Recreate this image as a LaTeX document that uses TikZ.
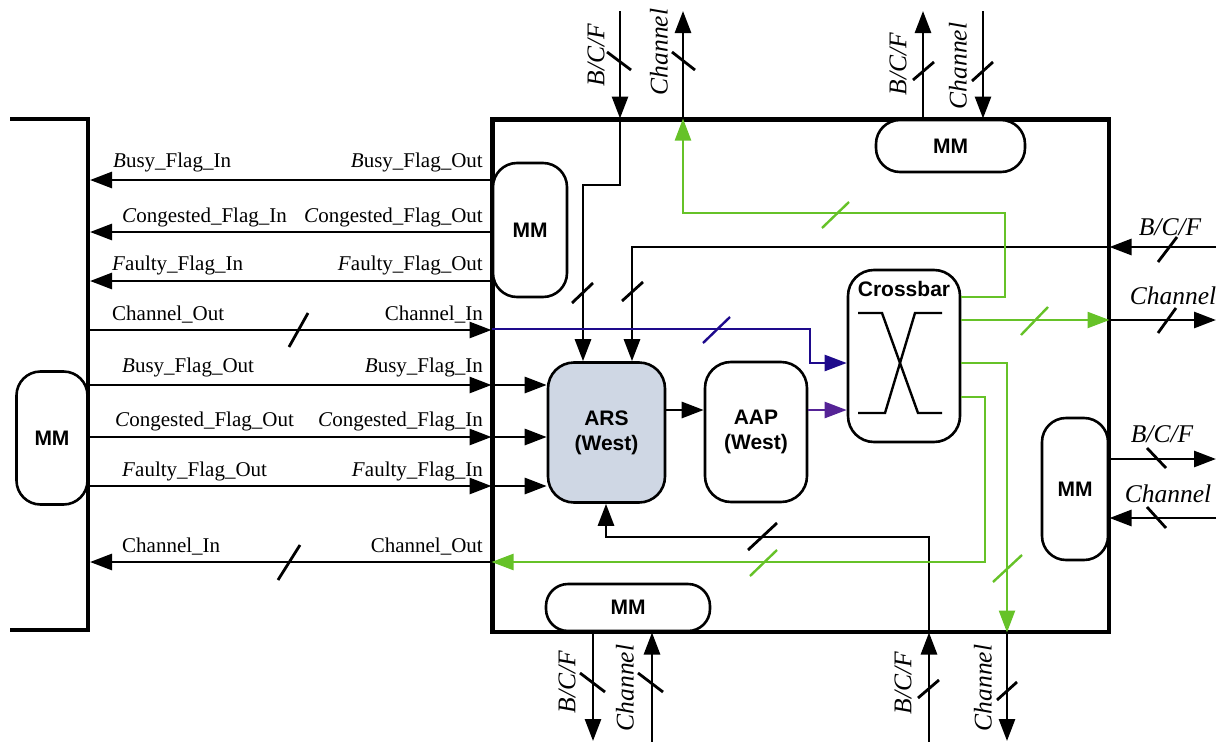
\documentclass[tikz,border=0pt]{standalone}
\usepackage{fontspec}
\setmainfont{Liberation Serif}
\newfontfamily\arialfont{Liberation Sans}
\usetikzlibrary{arrows.meta}
\definecolor{grn}{RGB}{102,194,40}
\definecolor{navyc}{RGB}{30,10,140}
\definecolor{purpc}{RGB}{85,35,150}
\definecolor{arsfill}{RGB}{207,215,228}
\begin{document}
\begin{tikzpicture}[x=1pt,y=-1pt,
  box/.style={draw, line width=2.6pt, rounded corners=24pt, inner sep=0pt, fill=white,
    font=\arialfont\bfseries\fontsize{21}{25}\selectfont, align=center},
  bfont/.style={font=\arialfont\bfseries\fontsize{21}{25}\selectfont, inner sep=0pt},
  arr/.style={line width=2.8pt, -{Triangle[length=22pt,width=16pt]}},
  garr/.style={draw=grn, line width=2.4pt, -{Triangle[length=22pt,width=16pt]}, color=grn},
  narr/.style={draw=navyc, line width=2.4pt, -{Triangle[length=22pt,width=16pt]}, color=navyc},
  parr/.style={draw=purpc, line width=2.4pt, -{Triangle[length=22pt,width=16pt]}, color=purpc},
  slash/.style={line width=2.8pt},
  gslash/.style={line width=2.4pt, draw=grn},
  nslash/.style={line width=2.4pt, draw=navyc},
  lbl/.style={font=\fontsize{21}{24}\selectfont, inner sep=0pt},
  ilbl/.style={font=\itshape\fontsize{25.5}{28}\selectfont, inner sep=0pt},
]
\useasboundingbox (0,0) rectangle (1227,742);

% main frame
\node[draw, line width=3pt, minimum width=615pt, minimum height=511pt, inner sep=0pt] (main) at (800.5,375.5) {};

% left bracket
\draw[line width=4.5pt] (10,119) -- (88,119) -- (88,630) -- (10,630);

% blocks
\node[box, minimum width=71pt, minimum height=133pt] (mmL) at (52,438) {MM};
\node[box, minimum width=74pt, minimum height=134pt] (mmW) at (530,230) {MM};
\node[box, minimum width=149pt, minimum height=52pt] (mmT) at (950.5,146) {MM};
\node[box, minimum width=66pt, minimum height=142pt] (mmR) at (1075,489) {MM};
\node[box, rounded corners=22pt, minimum width=164pt, minimum height=47pt] (mmB) at (628,607.5) {MM};
\node[box, fill=arsfill, rounded corners=26pt, minimum width=117pt, minimum height=140pt] (ars) at (606.5,432.5) {ARS\\(West)};
\node[box, rounded corners=26pt, minimum width=102pt, minimum height=140pt] (aap) at (756,432) {AAP\\(West)};
\node[box, rounded corners=26pt, minimum width=112pt, minimum height=172pt] (xbar) at (904,356) {};
\node[bfont] (xlbl) at (904,289) {Crossbar};
\draw[line width=2.4pt] (858,313) -- (882,313) -- (918,413) -- (942,413);
\draw[line width=2.4pt] (858,413) -- (885,413) -- (915,313) -- (942,313);

% redraw frame on top
\draw[line width=3pt] (main.north west) rectangle (main.south east);

% coordinates
\coordinate (tA) at (620,11);
\coordinate (tB) at (683,11);
\coordinate (tC) at (923,11);
\coordinate (tD) at (983,11);
\coordinate (bA) at (593,741);
\coordinate (bB) at (652,742);
\coordinate (bC) at (929,742);
\coordinate (bD) at (1007,741);
\coordinate (rA) at (1216,247);
\coordinate (rB) at (1216,320);
\coordinate (rC) at (1216,459);
\coordinate (rD) at (1216,518);
\coordinate (L1) at (90,180);
\coordinate (L2) at (90,232);
\coordinate (L3) at (90,281);
\coordinate (L4) at (88,330);
\coordinate (L5) at (88,385);
\coordinate (L6) at (88,437);
\coordinate (L7) at (88,486);
\coordinate (L8) at (90,562);
\coordinate (j1) at (583,185);
\coordinate (j2) at (632,247);
\coordinate (j3) at (606,537);
\coordinate (j4) at (810,329);
\coordinate (j5) at (810,363);
\coordinate (j6) at (807,410);
\coordinate (g1) at (1005,297);
\coordinate (g1b) at (683,213);
\coordinate (g3) at (1007,363);
\coordinate (g4) at (985,397);

% outer arrows: top
\draw[arr] (tA) -- (tA |- main.north);
\draw[arr] (tB |- main.north) -- (tB);
\draw[arr] (tC |- main.north) -- (tC);
\draw[arr] (tD) -- (tD |- main.north);
% bottom
\draw[arr] (bA |- main.south) -- (bA);
\draw[arr] (bB) -- (bB |- main.south);
\draw[arr] (bC) -- (bC |- main.south);
\draw[arr] (bD |- main.south) -- (bD);
% right
\draw[arr] (rA) -- (rA -| main.east);
\draw[arr] (rB -| main.east) -- (rB);
\draw[arr] (rC -| main.east) -- (rC);
\draw[arr] (rD) -- (rD -| main.east);
% left
\draw[arr] (main.west |- L1) -- (L1);
\draw[arr] (main.west |- L2) -- (L2);
\draw[arr] (main.west |- L3) -- (L3);
\draw[arr] (L4) -- (main.west |- L4);
\draw[arr] (L5) -- (main.west |- L5);
\draw[arr] (L6) -- (main.west |- L6);
\draw[arr] (L7) -- (main.west |- L7);
\draw[arr] (main.west |- L8) -- (L8);

% inner connectors
\draw[arr] (main.west |- L5) -- (ars.west |- L5);
\draw[arr] (main.west |- L6) -- (ars.west |- L6);
\draw[arr] (main.west |- L7) -- (ars.west |- L7);
\draw[arr] (tA |- main.north) |- (j1) -- (j1 |- ars.north);
\draw[arr] (rA -| main.east) -- (j2) -- (j2 |- ars.north);
\draw[arr] (bC |- main.south) |- (j3) -- (j3 |- ars.south);
\draw[arr] (ars.east |- j6) -- (aap.west |- j6);
\draw[narr] (main.west |- j4) -- (j4) -- (j5) -- (j5 -| xbar.west);
\draw[parr] (aap.east |- j6) -- (j6 -| xbar.west);
\draw[garr] (xbar.east |- g1) -- (g1) |- (g1b) -- (g1b |- main.north);
\draw[garr] (xbar.east |- rB) -- (rB -| main.east);
\draw[garr] (xbar.east |- g3) -- (g3) -- (g3 |- main.south);
\draw[garr] (xbar.east |- g4) -- (g4) |- (main.west |- L8);

% slashes
\draw[slash] (607,52) -- (631,70);
\draw[slash] (672,52) -- (695,70);
\draw[slash] (913,80) -- (934,62);
\draw[slash] (972,81) -- (993,62);
\draw[slash] (289,347) -- (308,313);
\draw[slash] (278,580) -- (300,545);
\draw[slash] (572,303) -- (593,283);
\draw[slash] (622,301) -- (643,282);
\draw[nslash] (703,343) -- (730,317);
\draw[gslash] (822,228) -- (849,202);
\draw[gslash] (1021,335) -- (1048,307);
\draw[slash] (1158,262) -- (1177,237);
\draw[slash] (1158,333) -- (1176,308);
\draw[slash] (1147,448) -- (1166,468);
\draw[slash] (1147,507) -- (1166,528);
\draw[gslash] (993,582) -- (1022,555);
\draw[slash] (748,550) -- (777,523);
\draw[gslash] (750,576) -- (777,550);
\draw[slash] (580,673) -- (605,692);
\draw[slash] (638,673) -- (663,692);
\draw[slash] (918,698) -- (939,680);
\draw[slash] (997,700) -- (1017,682);

% left labels
\node[lbl, anchor=base west] (t1) at (113,167) {\textit{B}usy\_Flag\_In};
\node[lbl, anchor=base east] (t2) at (483,167) {\textit{B}usy\_Flag\_Out};
\node[lbl, anchor=base west] (t3) at (122,222) {\textit{C}ongested\_Flag\_In};
\node[lbl, anchor=base east] (t4) at (483,222) {\textit{C}ongested\_Flag\_Out};
\node[lbl, anchor=base west] (t5) at (112,270) {\textit{F}aulty\_Flag\_In};
\node[lbl, anchor=base east] (t6) at (483,270) {\textit{F}aulty\_Flag\_Out};
\node[lbl, anchor=base west] (t7) at (112,320) {Channel\_Out};
\node[lbl, anchor=base east] (t8) at (483,320) {Channel\_In};
\node[lbl, anchor=base west] (t9) at (122,372) {\textit{B}usy\_Flag\_Out};
\node[lbl, anchor=base east] (t10) at (483,372) {\textit{B}usy\_Flag\_In};
\node[lbl, anchor=base west] (t11) at (115,426) {\textit{C}ongested\_Flag\_Out};
\node[lbl, anchor=base east] (t12) at (483,426) {\textit{C}ongested\_Flag\_In};
\node[lbl, anchor=base west] (t13) at (122,476) {\textit{F}aulty\_Flag\_Out};
\node[lbl, anchor=base east] (t14) at (483,476) {\textit{F}aulty\_Flag\_In};
\node[lbl, anchor=base west] (t15) at (122,552) {Channel\_In};
\node[lbl, anchor=base east] (t16) at (483,552) {Channel\_Out};

% italic port labels
\node[ilbl, rotate=90] (p1) at (596,55) {B/C/F};
\node[ilbl, rotate=90] (p2) at (659,52) {Channel};
\node[ilbl, rotate=90] (p3) at (898,64) {B/C/F};
\node[ilbl, rotate=90] (p4) at (958,66) {Channel};
\node[ilbl, rotate=90] (p5) at (567,682) {B/C/F};
\node[ilbl, rotate=90] (p6) at (625,688) {Channel};
\node[ilbl, rotate=90] (p7) at (903,683) {B/C/F};
\node[ilbl, rotate=90] (p8) at (983,688) {Channel};
\node[ilbl] (p9) at (1170,227) {B/C/F};
\node[ilbl] (p10) at (1173,296) {Channel};
\node[ilbl] (p11) at (1162,434) {B/C/F};
\node[ilbl] (p12) at (1168,494) {Channel};
\end{tikzpicture}
\end{document}
